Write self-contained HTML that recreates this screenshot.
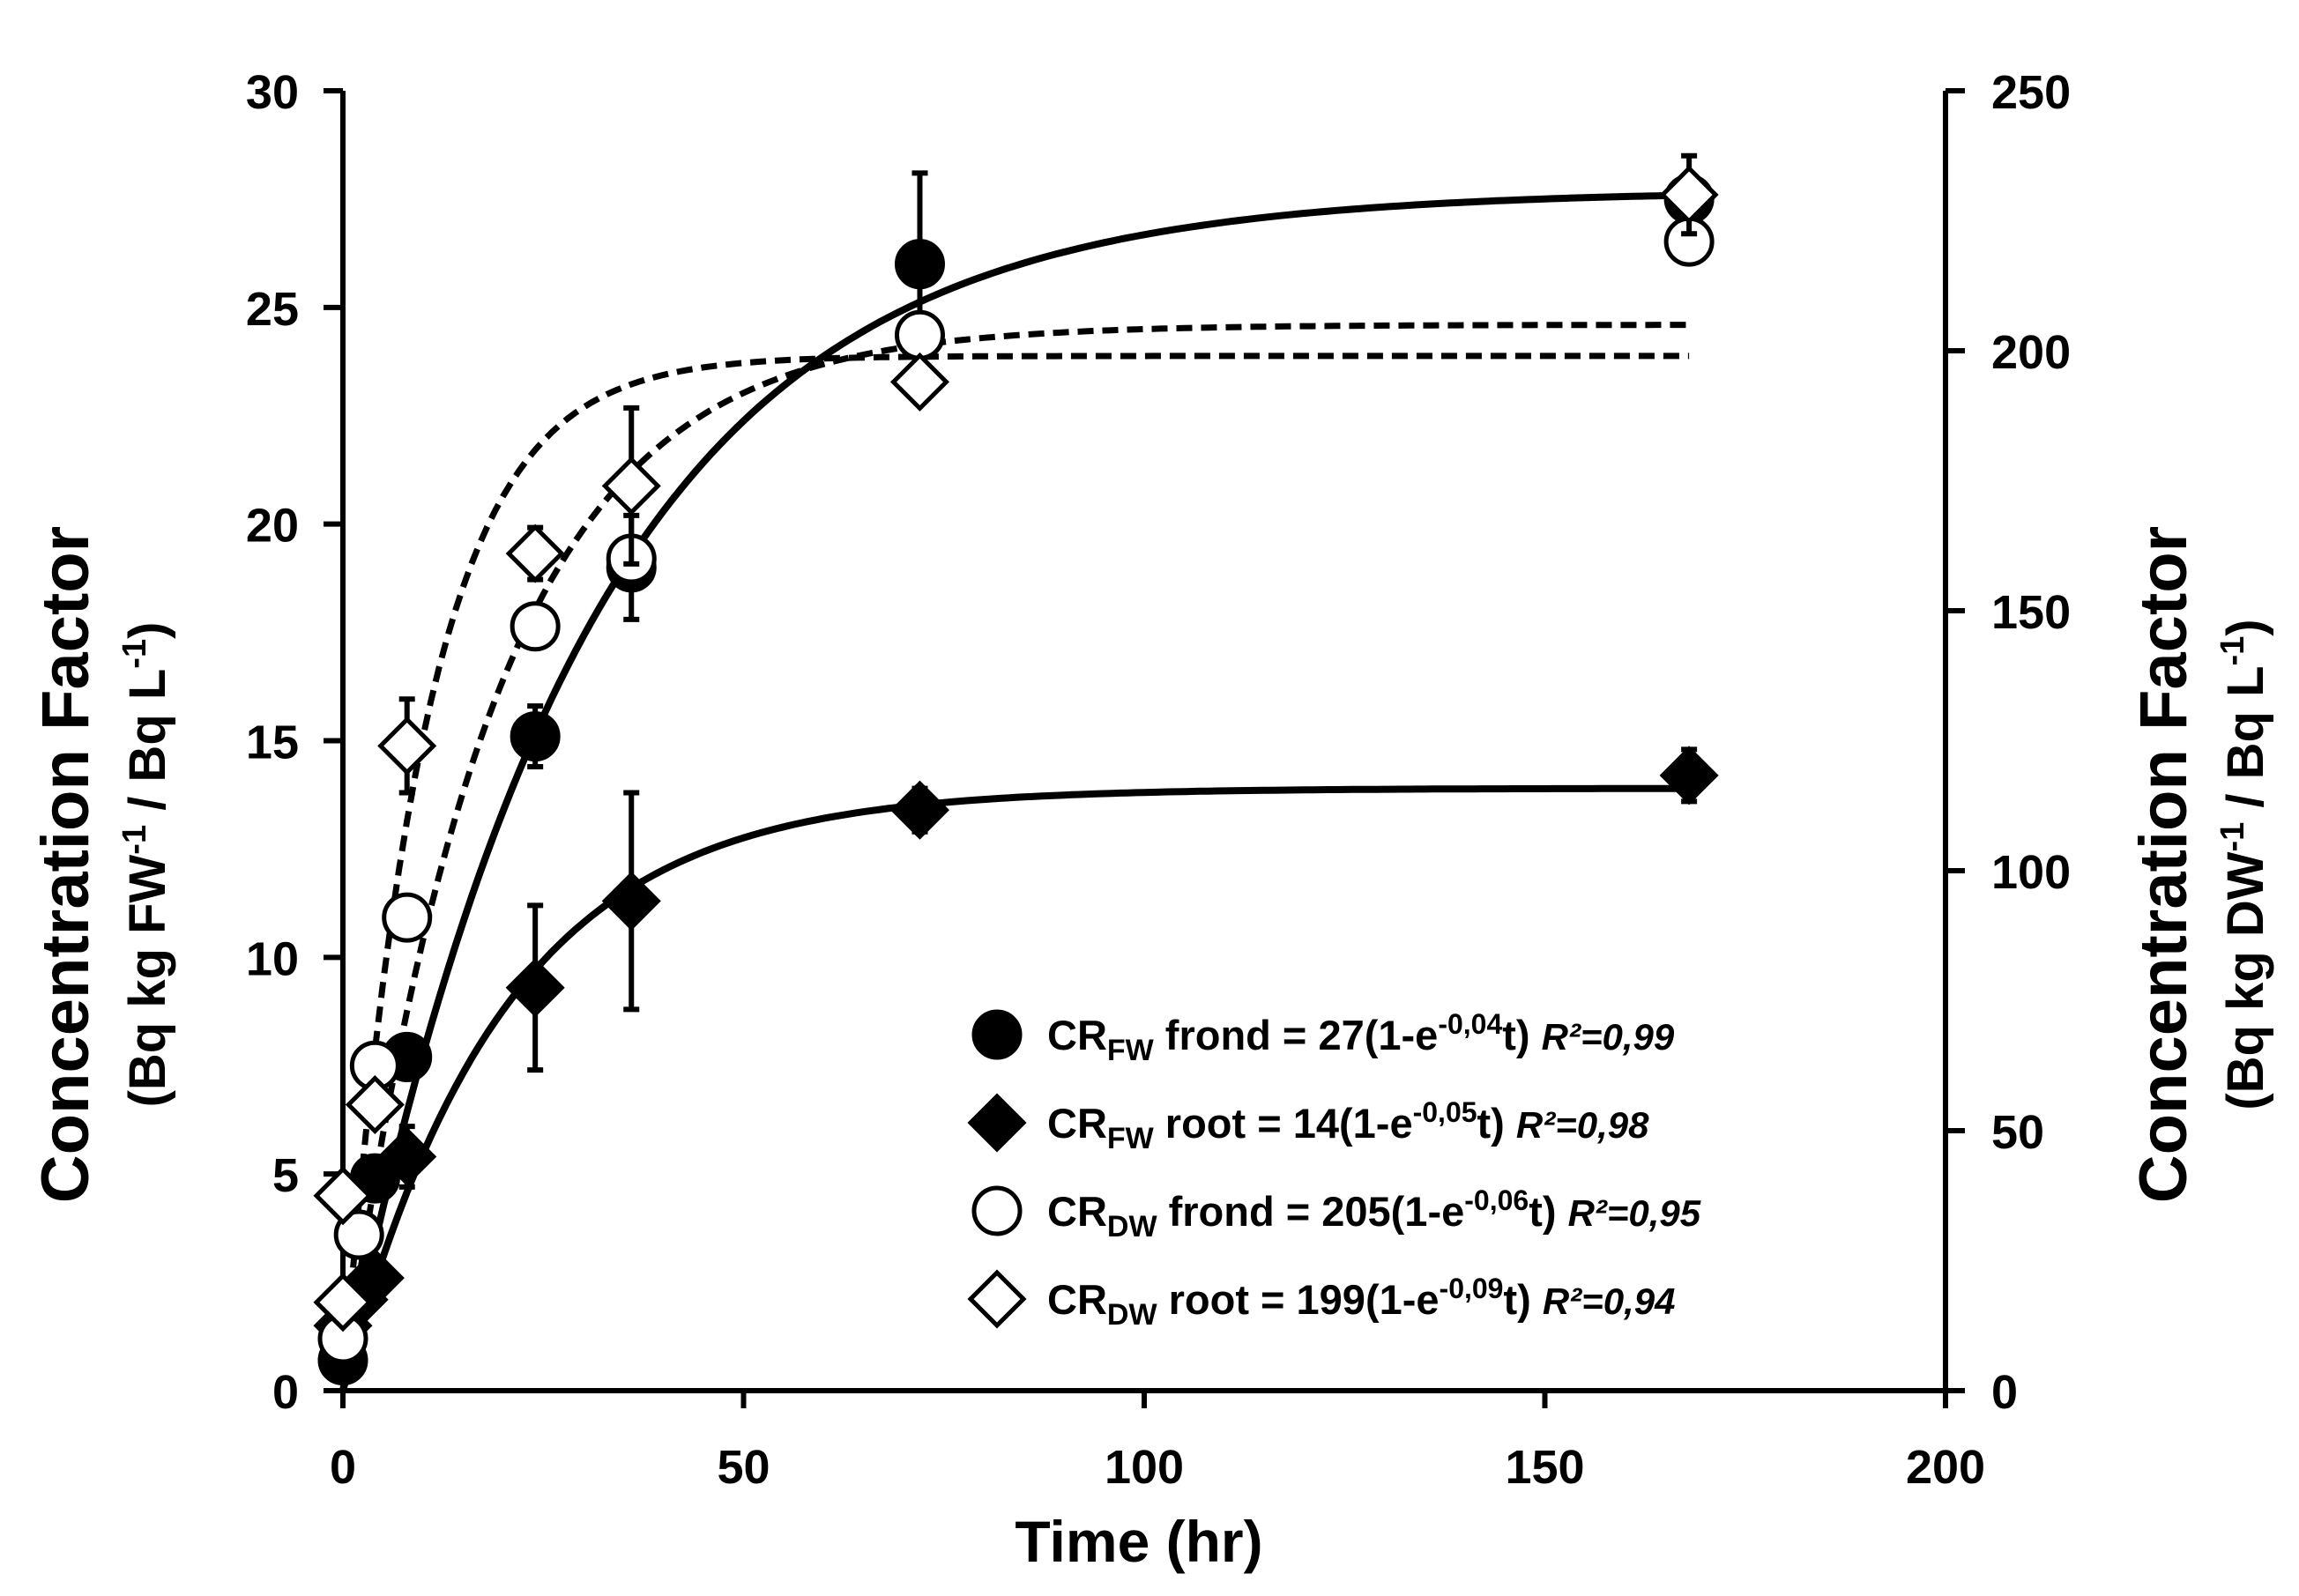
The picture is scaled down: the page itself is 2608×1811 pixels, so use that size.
<!DOCTYPE html>
<html><head><meta charset="utf-8"><style>
body{margin:0;background:#fff}
svg{display:block;font-family:"Liberation Sans",sans-serif;font-weight:bold}
</style></head><body>
<svg id="chart" width="2608" height="1811" viewBox="0 0 2608 1811" xmlns="http://www.w3.org/2000/svg">
<g id="axes"></g>
<g id="curves"></g>
<g id="marks"></g>
<g id="legend"></g>
<text transform="translate(100,981) rotate(-90)" text-anchor="middle" font-size="76">Concentration Factor</text>
<text transform="translate(187,981) rotate(-90)" text-anchor="middle" font-size="58">(Bq kg FW<tspan dy="-22" font-size="38">-1</tspan><tspan dy="22"> / Bq L</tspan><tspan dy="-22" font-size="38">-1</tspan><tspan dy="22">)</tspan></text>
<text transform="translate(2480,981) rotate(-90)" text-anchor="middle" font-size="76">Concentration Factor</text>
<text transform="translate(2567,981) rotate(-90)" text-anchor="middle" font-size="58">(Bq kg DW<tspan dy="-22" font-size="38">-1</tspan><tspan dy="22"> / Bq L</tspan><tspan dy="-22" font-size="38">-1</tspan><tspan dy="22">)</tspan></text>
<text x="1292" y="1772" text-anchor="middle" font-size="66">Time (hr)</text>
</svg>
<script>
const xTicks=[0,50,100,150,200];
const yTicks=[0,5,10,15,20,25,30];
const y2Ticks=[0,50,100,150,200,250];
const tFwFrond=[0,4,8,24,36,72,168];
const vFwFrond=[0.7,4.9,7.7,15.1,19.0,26.0,27.5];
const eFwFrond=[0,0,0,0.7,1.2,2.1,0];
const tFwRoot=[0,2,4,8,24,36,72,168];
const vFwRoot=[1.5,2.1,2.6,5.4,9.3,11.3,13.4,14.2];
const eFwRoot=[0,0,0,0.7,1.9,2.5,0.5,0.6];
const tDwFrond=[0,2,4,8,24,36,72,168];
const vDwFrond=[10,30,62.5,91,147,160,203,221];
const eDwFrond=[0,0,0,0,0,0,0,0];
const tDwRoot=[0,0,4,8,24,36,72,168];
const vDwRoot=[17,37.5,55,124,161,174,194,230];
const eDwRoot=[0,0,0,9,5,15,0,7.5];
const fitFwFrond=[27.7,0.033];
const fitFwRoot=[13.9,0.05];
const fitDwFrond=[205,0.055];
const fitDwRoot=[199,0.1];

const NS="http://www.w3.org/2000/svg";
const X0=389,X1=2207,Y0=1578,Y1=103;
const sx=v=>X0+(v/200)*(X1-X0);
const sy=v=>Y0-(v/30)*(Y0-Y1);
const sy2=v=>Y0-(v/250)*(Y0-Y1);
function mk(parent,tag,attrs){const e=document.createElementNS(NS,tag);for(const k in attrs)e.setAttribute(k,attrs[k]);parent.appendChild(e);return e;}
const axes=document.getElementById('axes');
let e;
e=mk(axes,'path',{d:`M${X0} ${Y1}V${Y0}H${X1}V${Y1}`,fill:'none',stroke:'#000','stroke-width':6});


xTicks.forEach(t=>{
 e=mk(axes,'line',{x1:sx(t),x2:sx(t),y1:Y0,y2:Y0+20,stroke:'#000','stroke-width':6});
 
 
 e=mk(axes,'text',{x:sx(t),y:Y0+105,'text-anchor':'middle','font-size':54});e.textContent=t;
 
 
});
yTicks.forEach(t=>{
 e=mk(axes,'line',{x1:X0-22,x2:X0,y1:sy(t),y2:sy(t),stroke:'#000','stroke-width':6});
 
 
 e=mk(axes,'text',{x:X0-50,y:sy(t)+20,'text-anchor':'end','font-size':54});e.textContent=t;
 
 
});
y2Ticks.forEach(t=>{
 e=mk(axes,'line',{x1:X1,x2:X1+22,y1:sy2(t),y2:sy2(t),stroke:'#000','stroke-width':6});
 
 
 e=mk(axes,'text',{x:X1+52,y:sy2(t)+20,'text-anchor':'start','font-size':54});e.textContent=t;
 
 
});
const curves=document.getElementById('curves');
function curve(fit,scale,dash,name){
 let d='';for(let t=0;t<=168;t+=1){const v=fit[0]*(1-Math.exp(-fit[1]*t));d+=(t?'L':'M')+sx(t).toFixed(1)+' '+scale(v).toFixed(1);}
 const p=mk(curves,'path',{d:d,fill:'none',stroke:'#000','stroke-width':dash?7:8,'stroke-dasharray':dash?'18 10':'none'});
 
 
}
curve(fitFwFrond,sy,false,'fit-fw-frond');
curve(fitFwRoot,sy,false,'fit-fw-root');
curve(fitDwFrond,sy2,true,'fit-dw-frond');
curve(fitDwRoot,sy2,true,'fit-dw-root');
const marks=document.getElementById('marks');
function marker(g,shape,fill,x,y){
 if(shape==='c') return mk(g,'circle',{cx:x,cy:y,r:26,fill:fill,stroke:'#000','stroke-width':5});
 return mk(g,'path',{d:`M${x} ${y-30}L${x+30} ${y}L${x} ${y+30}L${x-30} ${y}Z`,fill:fill,stroke:'#000','stroke-width':5});
}
function series(ts,vs,es,scale,shape,fill,name){
 ts.forEach((t,i)=>{
  if(es[i]>0){
   const x=sx(t);
   const b=mk(marks,'path',{d:`M${x} ${scale(vs[i]-es[i])}V${scale(vs[i]+es[i])}M${x-9} ${scale(vs[i]-es[i])}h18M${x-9} ${scale(vs[i]+es[i])}h18`,stroke:'#000','stroke-width':6,fill:'none'});
   
   
  }
  const m=marker(marks,shape,fill,sx(t),scale(vs[i]));
  
  
 });
}
series(tFwRoot,vFwRoot,eFwRoot,sy,'d','#000','fw-root');
series(tFwFrond,vFwFrond,eFwFrond,sy,'c','#000','fw-frond');
series(tDwFrond,vDwFrond,eDwFrond,sy2,'c','#fff','dw-frond');
series(tDwRoot,vDwRoot,eDwRoot,sy2,'d','#fff','dw-root');
const legend=document.getElementById('legend');
const legRows=[
 ['c','#000','FW',' frond = 27(1-e','-0,04','t) ','R²=0,99'],
 ['d','#000','FW',' root = 14(1-e','-0,05','t) ','R²=0,98'],
 ['c','#fff','DW',' frond = 205(1-e','-0,06','t) ','R²=0,95'],
 ['d','#fff','DW',' root = 199(1-e','-0,09','t) ','R²=0,94']];
legRows.forEach((r,i)=>{
 const y=1174+i*100;
 const m=marker(legend,r[0],r[1],1131,y);
 
 
 const t=mk(legend,'text',{x:1188,y:y+17,'font-size':47});
 
 
 t.innerHTML=`CR<tspan dy="12" font-size="34">${r[2]}</tspan><tspan dy="-12">${r[3]}</tspan><tspan dy="-18" font-size="32">${r[4]}</tspan><tspan dy="18">${r[5]}</tspan><tspan font-style="italic" font-size="42">${r[6]}</tspan>`;
});
</script>
</body></html>
